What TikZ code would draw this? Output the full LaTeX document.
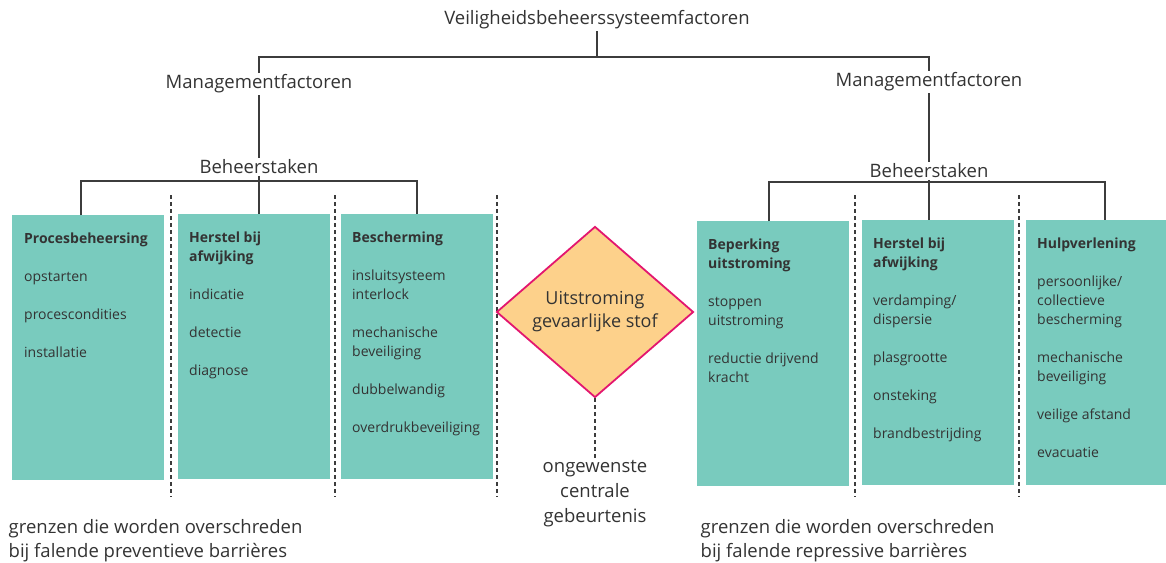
\documentclass[tikz,border=0pt]{standalone}
\usepackage{fontspec}
\setmainfont{Open Sans}
\usetikzlibrary{shapes.geometric}
\definecolor{boxteal}{HTML}{79CBBE}
\definecolor{diafill}{HTML}{FDD18B}
\definecolor{diadraw}{HTML}{E3166F}
\definecolor{txtgray}{HTML}{333333}
\definecolor{linegray}{HTML}{3C3C3C}

\begin{document}
\begin{tikzpicture}[x=1pt,y=-1pt,
    head/.style ={font=\fontsize{18.5}{24}\selectfont, text=txtgray, inner sep=1.5pt},
    task/.style ={fill=boxteal, minimum width=152pt, minimum height=265pt, inner sep=0pt, anchor=north west},
    items/.style ={font=\fontsize{14}{19}\selectfont, text=txtgray, align=left, anchor=north west, inner sep=0pt},
    tree/.style ={draw=linegray, line width=1.2pt},
    sep/.style ={draw=linegray, line width=1.2pt, dash pattern=on 4pt off 3pt}]
   \useasboundingbox (0,0) rectangle (1166,562);

   % boxes
   \node[task] (P) at (12,215) {};
   \node[task] (H) at (178,214) {};
   \node[task] (B) at (341,214) {};
   \node[task] (U) at (697,221) {};
   \node[task] (R) at (862,220) {};
   \node[task] (V) at (1026,220) {};

   \node[items] (Pt) at ([shift={(12,18)}]P.north west) {\textbf{Procesbeheersing}\\[19pt] opstarten\\[19pt] procescondities\\[19pt] installatie};
   \node[items] (Ht) at ([shift={(11,18)}]H.north west) {\textbf{Herstel bij}\\ \textbf{afwijking}\\[19pt] indicatie\\[19pt] detectie\\[19pt] diagnose};
   \node[items] (Bt) at ([shift={(11,18)}]B.north west) {\textbf{Bescherming}\\[19pt] insluitsysteem\\ interlock\\[19pt] mechanische\\ beveiliging\\[19pt] dubbelwandig\\[19pt] overdrukbeveiliging};
   \node[items] (Ut) at ([shift={(11,18)}]U.north west) {\textbf{Beperking}\\ \textbf{uitstroming}\\[19pt] stoppen\\ uitstroming\\[19pt] reductie drijvend\\ kracht};
   \node[items] (Rt) at ([shift={(11,18)}]R.north west) {\textbf{Herstel bij}\\ \textbf{afwijking}\\[19pt] verdamping/\\ dispersie\\[19pt] plasgrootte\\[19pt] onsteking\\[19pt] brandbestrijding};
   \node[items] (Vt) at ([shift={(11,18)}]V.north west) {\textbf{Hulpverlening}\\[19pt] persoonlijke/\\ collectieve\\ bescherming\\[19pt] mechanische\\ beveiliging\\[19pt] veilige afstand\\[19pt] evacuatie};

   % tree
   \node[head] (vbs) at (597,20) {Veiligheidsbeheerssysteemfactoren};
   \node[head] (mf1) at (259,84) {Managementfactoren};
   \node[head] (mf2) at (929,82) {Managementfactoren};
   \node[head] (bs1) at (259,167) {Beheerstaken};
   \node[head] (bs2) at (929,171) {Beheerstaken};

   \coordinate (j0) at (597,57);
   \coordinate (j1) at (81,181);
   \coordinate (j2) at (417,181);
   \coordinate (j3) at (769,182);
   \coordinate (j4) at (1105,182);

   \draw[tree] (vbs) -- (j0);
   \draw[tree] (mf1) -- (mf1 |- j0) -- (mf2 |- j0) -- (mf2);
   \draw[tree] (mf1) -- (bs1);
   \draw[tree] (mf2) -- (bs2);
   \draw[tree] (P.north -| j1) -- (j1) -- (j2) -- (B.north -| j2);
   \draw[tree] (bs1) -- (bs1 |- H.north);
   \draw[tree] (U.north -| j3) -- (j3) -- (j4) -- (V.north -| j4);
   \draw[tree] (bs2) -- (bs2 |- R.north);

   % barriers
   \foreach \x in {171,335,497,855,1019}
      \draw[sep] (\x,195) -- (\x,497);

   % central event
   \node[diamond, draw=diadraw, fill=diafill, line width=1.8pt, minimum width=197pt, minimum height=171pt,
         aspect=1.15, inner sep=0pt, align=center, font=\fontsize{18}{23}\selectfont, text=txtgray] (D) at (595,312) {Uitstroming\\ gevaarlijke stof};
   \node[head, align=center, font=\fontsize{18.5}{25}\selectfont] (E) at (595,494) {ongewenste\\ centrale\\ gebeurtenis};
   \draw[sep] (D) -- (E);

   \node[head, anchor=west, align=left] (L) at (7,541) {grenzen die worden overschreden\\ bij falende preventieve barrières};
   \node[head, anchor=west, align=left] (Rr) at (699,541) {grenzen die worden overschreden\\ bij falende repressive barrières};
 \end{tikzpicture}
\end{document}
